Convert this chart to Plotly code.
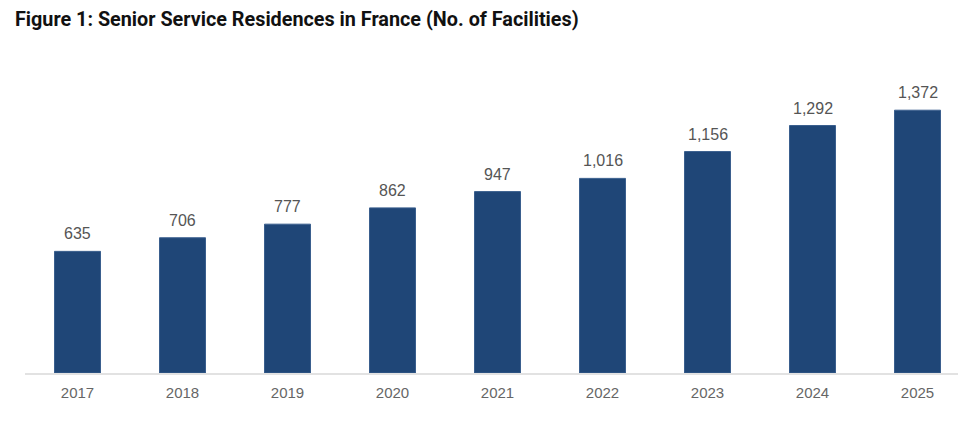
import plotly.graph_objects as go

years = ["2017", "2018", "2019", "2020", "2021", "2022", "2023", "2024", "2025"]
facilities = [635, 706, 777, 862, 947, 1016, 1156, 1292, 1372]
labels = ["635", "706", "777", "862", "947", "1,016", "1,156", "1,292", "1,372"]

fig = go.Figure()
fig.add_trace(go.Bar(
    x=years, y=facilities,
    marker=dict(color="#1f4677", line=dict(color="#3a5f8e", width=1)),
    hoverinfo="x+y",
))

# value labels above each bar (category index, since "2017" would be read as a number)
for i, (val, lab) in enumerate(zip(facilities, labels)):
    fig.add_annotation(
        x=i, y=val, text=lab, showarrow=False,
        yanchor="bottom", yshift=7,
        font=dict(family="Liberation Sans, Arial", size=16, color="#555555"),
    )

fig.update_layout(
    width=966, height=422,
    margin=dict(l=16.5, r=3.5, t=52, b=57),
    paper_bgcolor="white", plot_bgcolor="white",
    bargap=0.562,
    showlegend=False,
    title=dict(
        text="<b>Figure 1: Senior Service Residences in France (No. of Facilities)</b>",
        x=0.0072, xanchor="left", y=0.974, yanchor="middle",
        font=dict(family="Roboto", size=19.8, color="#111111"),
    ),
)
fig.update_xaxes(
    type="category", range=[-0.5, 8.5],
    showline=True, linecolor="#e2e2e2", linewidth=2,
    ticks="", showgrid=False, ticklabelstandoff=5,
    tickfont=dict(family="Liberation Sans, Arial", size=15, color="#666666"),
)
fig.update_yaxes(
    range=[0, 1634], visible=False, showgrid=False, zeroline=False,
)

fig.write_html("out.html")
